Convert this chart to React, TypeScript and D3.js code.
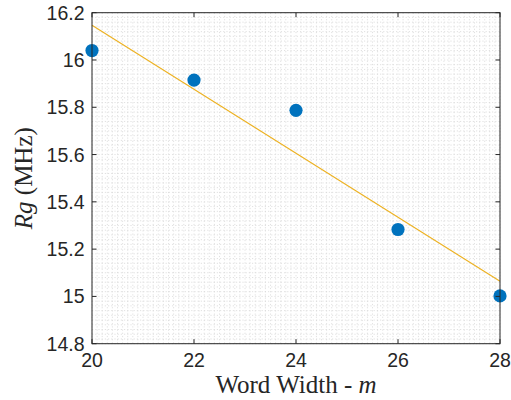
import React from "react";
import * as d3 from "d3";

const wordWidth = [20, 22, 24, 26, 28];
const rgValues = [16.04, 15.915, 15.787, 15.283, 15.002];
const xTicks = [20, 22, 24, 26, 28];
const yTicks = [14.8, 15, 15.2, 15.4, 15.6, 15.8, 16, 16.2];
const xDomain = [20, 28];
const yDomain = [14.8, 16.2];

const W = 511;
const H = 400;
const left = 92;
const right = 500;
const top = 12.7;
const bottom = 343.7;

export default function App() {
  const x = d3.scaleLinear().domain(xDomain).range([left, right]);
  const y = d3.scaleLinear().domain(yDomain).range([bottom, top]);

  // least-squares fit from data
  const mx = d3.mean(wordWidth) as number;
  const my = d3.mean(rgValues) as number;
  const slope =
    d3.sum(wordWidth.map((v, i) => (v - mx) * (rgValues[i] - my))) /
    d3.sum(wordWidth.map((v) => (v - mx) * (v - mx)));
  const fit = (v: number) => my + slope * (v - mx);
  const line = d3
    .line<number>()
    .x((d) => x(d))
    .y((d) => y(fit(d)));

  const minorX = d3.range(0, 81).map((i) => xDomain[0] + i * 0.1);
  const minorY = d3.range(0, 71).map((i) => yDomain[0] + i * 0.02);

  const axisColor = "#262626";
  const tickLen = 4.5;
  const tickFont = "'Liberation Sans', Arial, Helvetica, sans-serif";
  const labelFont = "'Liberation Serif', 'DejaVu Serif', 'Times New Roman', serif";

  return (
    <svg
      width={W}
      height={H}
      style={{ position: "absolute", left: 0, top: 0, background: "#fff" }}
    >
      <rect x={left} y={top} width={right - left} height={bottom - top} fill="#fff" />
      <g stroke="#d4d4d4" strokeWidth={0.7} strokeDasharray="1.2,2">
        {minorX.map((v, i) => (
          <line key={"mx" + i} x1={x(v)} x2={x(v)} y1={top} y2={bottom} />
        ))}
        {minorY.map((v, i) => (
          <line key={"my" + i} x1={left} x2={right} y1={y(v)} y2={y(v)} />
        ))}
      </g>
      <path
        d={line(xDomain) || ""}
        fill="none"
        stroke="#EDB120"
        strokeWidth={1.1}
      />
      {wordWidth.map((v, i) => (
        <circle key={i} cx={x(v)} cy={y(rgValues[i])} r={6.6} fill="#0072BD" />
      ))}
      <rect
        x={left}
        y={top}
        width={right - left}
        height={bottom - top}
        fill="none"
        stroke={axisColor}
        strokeWidth={1}
      />
      <g stroke={axisColor} strokeWidth={1}>
        {xTicks.map((t) => (
          <g key={"xt" + t}>
            <line x1={x(t)} x2={x(t)} y1={bottom} y2={bottom - tickLen} />
            <line x1={x(t)} x2={x(t)} y1={top} y2={top + tickLen} />
          </g>
        ))}
        {yTicks.map((t) => (
          <g key={"yt" + t}>
            <line x1={left} x2={left + tickLen} y1={y(t)} y2={y(t)} />
            <line x1={right} x2={right - tickLen} y1={y(t)} y2={y(t)} />
          </g>
        ))}
      </g>
      <g fill={axisColor} fontFamily={tickFont} fontSize={19.5}>
        {xTicks.map((t) => (
          <text key={"xl" + t} x={x(t)} y={367} textAnchor="middle">
            {d3.format("d")(t)}
          </text>
        ))}
        {yTicks.map((t) => (
          <text
            key={"yl" + t}
            x={left - 7.5}
            y={y(t)}
            textAnchor="end"
            dominantBaseline="central"
          >
            {d3.format("~g")(t)}
          </text>
        ))}
      </g>
      <text
        x={(left + right) / 2}
        y={393}
        textAnchor="middle"
        fontFamily={labelFont}
        fontSize={25}
        fill={axisColor}
      >
        Word Width - <tspan fontStyle="italic">m</tspan>
      </text>
      <text
        transform={`translate(32, ${(top + bottom) / 2}) rotate(-90)`}
        textAnchor="middle"
        fontFamily={labelFont}
        fontSize={25}
        fill={axisColor}
      >
        <tspan fontStyle="italic">Rg</tspan> (MHz)
      </text>
    </svg>
  );
}
